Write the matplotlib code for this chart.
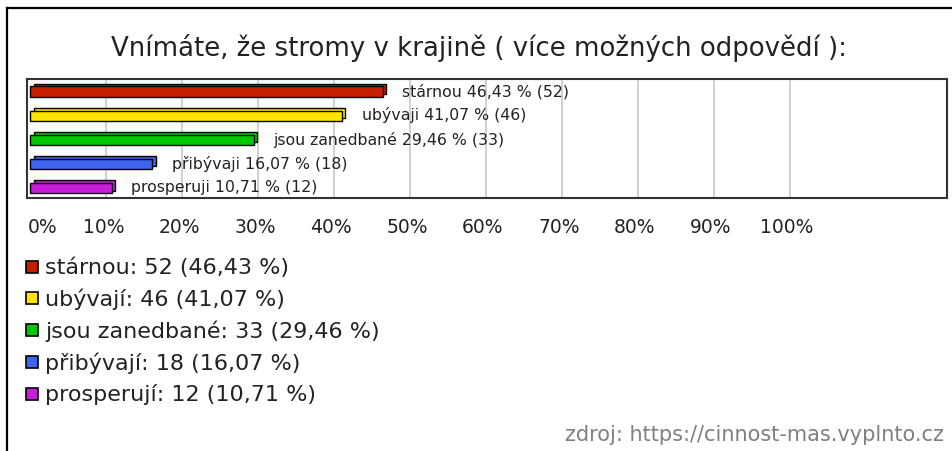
import matplotlib.pyplot as plt
from matplotlib.patches import Rectangle
from matplotlib.lines import Line2D
import matplotlib.transforms as mtransforms

plt.rcParams['font.family'] = ['DejaVu Sans']

# data
names = ["stárnou", "ubývají", "jsou zanedbané", "přibývají", "prosperují"]
bar_names = ["stárnou", "ubývaji", "jsou zanedbané", "přibývaji", "prosperuji"]
counts = [52, 46, 33, 18, 12]
percents = [46.43, 41.07, 29.46, 16.07, 10.71]
colors = ["#c81e00", "#ffe400", "#00c800", "#3c64f0", "#c81edc"]
ticks = [0, 10, 20, 30, 40, 50, 60, 70, 80, 90, 100]

W, H = 953, 452


def fx(px):
    return px / W


def fy(py):
    return 1 - py / H


def fmt(p):
    return f"{p:.2f}".replace('.', ',')


fig = plt.figure(figsize=(W / 100, H / 100), dpi=100)

# outer frame (left and top edges visible)
fig.add_artist(Line2D([fx(7), fx(7)], [fy(9), 0], color='black', lw=1.6))
fig.add_artist(Line2D([fx(7), 1], [fy(9), fy(9)], color='black', lw=1.6))

fig.text(fx(479), fy(48), "Vnímáte, že stromy v krajině ( více možných odpovědí ):",
         ha='center', va='center', fontsize=18.7, color='#222222')

ax = fig.add_axes([fx(27), fy(199), fx(947) - fx(27), fy(80) - fy(199)])
pos = list(range(len(percents)))

# 3D look: back face shifted right/up, front face on top
ax.barh([p - 0.11 for p in pos], percents, left=0.4, height=0.42,
        color=colors, edgecolor='black', linewidth=1.0, zorder=2)
ax.barh(pos, percents, height=0.42, color=colors, edgecolor='black',
        linewidth=1.0, zorder=3)

for p, v, n, c in zip(pos, percents, bar_names, counts):
    ax.annotate(f"{n} {fmt(v)} % ({c})", (v, p - 0.05), xytext=(14, 0),
                textcoords='offset points', va='center', ha='left',
                fontsize=11.3, color='#222222', zorder=4)

ax.set_xlim(-0.46, 120.75)
ax.set_ylim(4.41, -0.52)
ax.set_yticks([])
ax.set_xticks(ticks)
ax.set_xticklabels([f"{t}%" for t in ticks], fontsize=13.5, color='#222222')
ax.tick_params(axis='x', length=0, pad=14)
for t in ticks[1:]:
    ax.axvline(t, color='#c8c8c8', lw=1.2, zorder=1)
for s in ax.spines.values():
    s.set_color('#333333')
    s.set_linewidth(1.5)

# shift tick labels to match reference placement
for i, lab in enumerate(ax.get_xticklabels()):
    dx = 12 if i == 0 else -3
    lab.set_transform(lab.get_transform() +
                      mtransforms.ScaledTranslation(dx / 100, 0, fig.dpi_scale_trans))

# legend
rows_y = [268, 299, 331, 363, 395]
for ry, n, c, p, col in zip(rows_y, names, counts, percents, colors):
    fig.add_artist(Rectangle((fx(26), fy(ry + 6)), fx(12), fy(0) - fy(12),
                             facecolor=col, edgecolor='black', lw=1.2))
    fig.text(fx(45), fy(ry), f"{n}: {c} ({fmt(p)} %)", ha='left', va='center',
             fontsize=16, color='#222222')

fig.text(fx(944), fy(435), "zdroj: https://cinnost-mas.vyplnto.cz", ha='right',
         va='center', fontsize=15, color='#808080')

fig.savefig("out.png", dpi=100)
